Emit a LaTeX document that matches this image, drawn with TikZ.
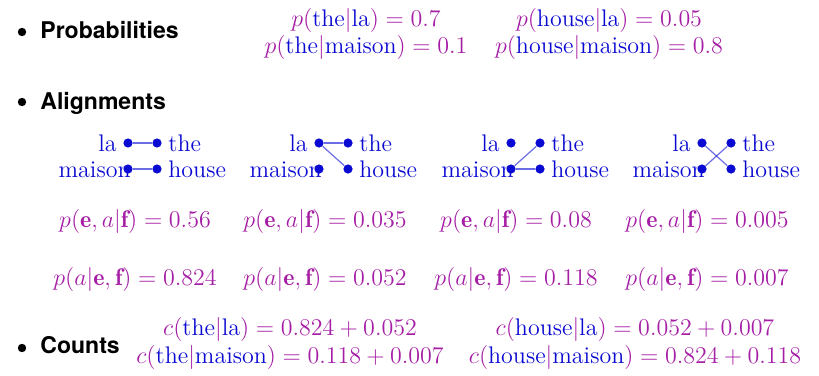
\documentclass[12pt,tikz,border=0pt]{standalone}
\usepackage{amsmath}
\usepackage{fontspec}
\newfontfamily\headfont[Scale=0.96]{TeX Gyre Heros}
\usepackage{tikz}
\usetikzlibrary{positioning}
\definecolor{wordblue}{RGB}{10,10,210}
\definecolor{probpink}{RGB}{165,30,165}
\newcommand{\wrd}[1]{\textcolor{wordblue}{\text{#1}}}

\begin{document}
\begin{tikzpicture}[x=0.5pt, y=-0.5pt,
  head/.style={font=\headfont\bfseries, anchor=base west, inner sep=0pt},
  bullet/.style={circle, fill=black, inner sep=0pt, minimum size=4.2pt},
  formula/.style={text=probpink, anchor=base, inner sep=0pt},
  dot/.style={circle, fill=wordblue, inner sep=0pt, minimum size=4.6pt},
  word/.style={text=wordblue, inner sep=1pt, text height=8.5pt, text depth=0pt},
  link/.style={wordblue, opacity=0.6, line width=0.6pt}
]
  \useasboundingbox (0,0) rectangle (819,375);

  % probabilities
  \node[bullet] (b1) at (22,32) {};
  \node[head] (prob) at (40,39) {Probabilities};
  \node[formula] (p1) at (366,26) {$p(\wrd{the}|\wrd{la}) = 0.7$};
  \node[formula] (p2) at (366,53) {$p(\wrd{the}|\wrd{maison}) = 0.1$};
  \node[formula] (p3) at (609,26) {$p(\wrd{house}|\wrd{la}) = 0.05$};
  \node[formula] (p4) at (609,53) {$p(\wrd{house}|\wrd{maison}) = 0.8$};

  % alignments
  \node[bullet] (b2) at (22,102) {};
  \node[head] (align) at (40,109) {Alignments};
  \foreach \g/\x in {1/128, 2/319, 3/511, 4/702} {
    \node[dot] (l\g) at (\x,143) {};
    \node[dot] (m\g) at (\x,169) {};
    \node[dot] (t\g) at (\x+29,143) {};
    \node[dot] (h\g) at (\x+29,169) {};
    \node[word, left=2pt of l\g] (wl\g) {la};
    \node[word, anchor=east] (wm\g) at (m\g.east) {maison};
    \node[word, right=2pt of t\g] (wt\g) {the};
    \node[word, right=2pt of h\g] (wh\g) {house};
  }
  \draw[link] (l1) -- (t1);
  \draw[link] (m1) -- (h1);
  \draw[link] (l2) -- (t2);
  \draw[link] (l2) -- (h2);
  \draw[link] (m3) -- (t3);
  \draw[link] (m3) -- (h3);
  \draw[link] (l4) -- (h4);
  \draw[link] (m4) -- (t4);

  \node[formula] (j1) at (135,227) {$p(\mathbf{e},a|\mathbf{f}) = 0.56$};
  \node[formula] (j2) at (325,227) {$p(\mathbf{e},a|\mathbf{f}) = 0.035$};
  \node[formula] (j3) at (516,227) {$p(\mathbf{e},a|\mathbf{f}) = 0.08$};
  \node[formula] (j4) at (707,227) {$p(\mathbf{e},a|\mathbf{f}) = 0.005$};
  \node[formula] (q1) at (135,285) {$p(a|\mathbf{e},\mathbf{f}) = 0.824$};
  \node[formula] (q2) at (325,285) {$p(a|\mathbf{e},\mathbf{f}) = 0.052$};
  \node[formula] (q3) at (516,285) {$p(a|\mathbf{e},\mathbf{f}) = 0.118$};
  \node[formula] (q4) at (707,285) {$p(a|\mathbf{e},\mathbf{f}) = 0.007$};

  % counts
  \node[bullet] (b3) at (22,348) {};
  \node[head] (counts) at (40,353) {Counts};
  \node[formula] (c1) at (290,335) {$c(\wrd{the}|\wrd{la}) = 0.824 + 0.052$};
  \node[formula] (c2) at (290,363) {$c(\wrd{the}|\wrd{maison}) = 0.118 + 0.007$};
  \node[formula] (c3) at (635,335) {$c(\wrd{house}|\wrd{la}) = 0.052 + 0.007$};
  \node[formula] (c4) at (635,363) {$c(\wrd{house}|\wrd{maison}) = 0.824 + 0.118$};
\end{tikzpicture}
\end{document}
